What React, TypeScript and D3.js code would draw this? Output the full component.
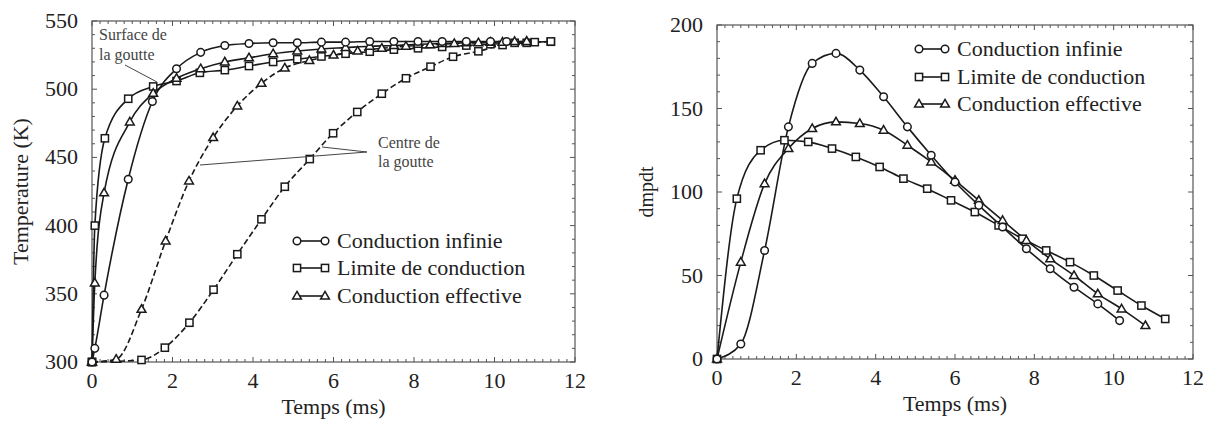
import React from 'react';
import * as d3 from 'd3';

// ---------- Left chart: Temperature (K) vs Temps (ms) ----------
const xTicksL = [0, 2, 4, 6, 8, 10, 12];
const yTicksL = [300, 350, 400, 450, 500, 550];

// Conduction infinie (surface = centre)
const infT_t = [0, 0.07, 0.3, 0.9, 1.5, 2.1, 2.7, 3.3, 3.9, 4.5, 5.1, 5.7, 6.3, 6.9, 7.5, 8.1, 8.7, 9.3, 9.9, 10.3];
const infT_v = [300, 310, 349, 434, 491, 515, 527, 532, 533.5, 534, 534, 534.5, 534.5, 535, 535, 535, 535, 535, 535, 535];
// Limite de conduction – surface
const limSurf_t = [0, 0.07, 0.32, 0.9, 1.52, 2.1, 2.68, 3.3, 3.9, 4.5, 5.1, 5.7, 6.3, 6.9, 7.5, 8.1, 8.7, 9.3, 9.9, 10.5, 11.0, 11.4];
const limSurf_v = [300, 400, 464, 493, 502, 506, 512, 514, 517, 520, 522, 524, 526, 527.5, 529, 530, 531, 532, 533, 534, 534.5, 535];
// Limite de conduction – centre
const limCtr_t = [0, 1.23, 1.81, 2.42, 3.02, 3.61, 4.21, 4.79, 5.41, 5.99, 6.59, 7.2, 7.8, 8.41, 8.97, 9.6, 10.2, 10.8, 11.4];
const limCtr_v = [300, 301.5, 310.5, 328.8, 353, 379, 404.6, 428.5, 448.8, 467.7, 483.3, 496.7, 508, 516.5, 523.8, 527.8, 532.4, 534, 534.8];
// Conduction effective – surface
const effSurf_t = [0, 0.07, 0.3, 0.94, 1.52, 2.1, 2.7, 3.3, 3.9, 4.5, 5.1, 5.7, 6.3, 6.9, 7.5, 8.1, 8.7, 9.3, 9.9, 10.5, 10.8];
const effSurf_v = [300, 358, 424, 476, 497, 508, 515, 520, 523, 526, 528, 529.5, 530.5, 531.5, 532, 533, 533.5, 534, 534.5, 535, 535];
// Conduction effective – centre
const effCtr_t = [0, 0.6, 1.23, 1.83, 2.41, 3.01, 3.61, 4.21, 4.79, 5.4, 6.0, 6.6, 7.2, 7.8, 8.4, 9.0, 9.6, 10.2, 10.8];
const effCtr_v = [300, 302, 338.6, 388.8, 432.7, 464.5, 487.7, 504.3, 515.5, 521, 525, 528, 530, 531.5, 532.5, 533.5, 534, 534.5, 535];

// ---------- Right chart: dmpdt vs Temps (ms) ----------
const xTicksR = [0, 2, 4, 6, 8, 10, 12];
const yTicksR = [0, 50, 100, 150, 200];

const infR_t = [0, 0.6, 1.2, 1.8, 2.4, 3.0, 3.6, 4.2, 4.8, 5.4, 6.0, 6.6, 7.2, 7.8, 8.4, 9.0, 9.6, 10.15];
const infR_v = [0, 9, 65, 139, 177, 183, 173, 157, 139, 122, 106, 92, 79, 66, 54, 43, 33, 23];
const limR_t = [0, 0.5, 1.1, 1.7, 2.3, 2.9, 3.5, 4.1, 4.7, 5.3, 5.9, 6.5, 7.1, 7.7, 8.3, 8.9, 9.5, 10.1, 10.7, 11.3];
const limR_v = [0, 96, 125, 131, 130, 126, 121, 115, 108, 102, 95, 88, 80, 72, 65, 58, 50, 41, 32, 24];
const effR_t = [0, 0.6, 1.2, 1.8, 2.4, 3.0, 3.6, 4.2, 4.8, 5.4, 6.0, 6.6, 7.2, 7.8, 8.4, 9.0, 9.6, 10.2, 10.8];
const effR_v = [0, 58, 105, 126, 138, 142, 141, 137, 128, 118, 107, 95, 83, 71, 60, 50, 39, 30, 20];

const legendLabels = ['Conduction infinie', 'Limite de conduction', 'Conduction effective'];

type Kind = 'circle' | 'square' | 'triangle';
type Series = { t: number[]; v: number[]; kind: Kind; dashed?: boolean };

const FONT = 'Liberation Serif';
const INK = '#1a1a1a';

function Marker({ kind, x, y }: { kind: Kind; x: number; y: number }) {
  const common = { fill: '#fff', stroke: INK, strokeWidth: 1.5 };
  if (kind === 'circle') return <circle cx={x} cy={y} r={3.8} {...common} />;
  if (kind === 'square') return <rect x={x - 3.6} y={y - 3.6} width={7.2} height={7.2} {...common} />;
  return <path d={`M${x},${y - 4.6} L${x + 4.4},${y + 3} L${x - 4.4},${y + 3} Z`} {...common} />;
}

function Panel({
  left, right, top, bottom, xDomain, yDomain, xTicks, yTicks, xMinor, yMinor, series, yLabel, yLabelX, yLabelSize,
}: {
  left: number; right: number; top: number; bottom: number;
  xDomain: [number, number]; yDomain: [number, number];
  xTicks: number[]; yTicks: number[]; xMinor: number; yMinor: number;
  series: Series[]; yLabel: string; yLabelX: number; yLabelSize: number;
}) {
  const x = d3.scaleLinear().domain(xDomain).range([left, right]);
  const y = d3.scaleLinear().domain(yDomain).range([bottom, top]);
  const xm = d3.range(xDomain[0], xDomain[1] + 1e-9, xMinor);
  const ym = d3.range(yDomain[0], yDomain[1] + 1e-9, yMinor);
  const line = d3.line<[number, number]>().x(d => x(d[0])).y(d => y(d[1])).curve(d3.curveMonotoneX);
  const tickColor = '#555';
  return (
    <g>
      {xm.map((v, i) => {
        const major = xTicks.some(t => Math.abs(t - v) < 1e-6);
        const L = major ? 5 : 3;
        return (
          <g key={'xm' + i} stroke={tickColor} strokeWidth={1}>
            <line x1={x(v)} x2={x(v)} y1={bottom} y2={bottom - L} />
            <line x1={x(v)} x2={x(v)} y1={top} y2={top + L} />
          </g>
        );
      })}
      {ym.map((v, i) => {
        const major = yTicks.some(t => Math.abs(t - v) < 1e-6);
        const L = major ? 5 : 3;
        return (
          <g key={'ym' + i} stroke={tickColor} strokeWidth={1}>
            <line x1={left} x2={left + L} y1={y(v)} y2={y(v)} />
            <line x1={right} x2={right - L} y1={y(v)} y2={y(v)} />
          </g>
        );
      })}
      <rect x={left} y={top} width={right - left} height={bottom - top} fill="none" stroke={tickColor} strokeWidth={1.2} />
      {xTicks.map(v => (
        <text key={'xl' + v} x={x(v)} y={bottom + 26} textAnchor="middle" fontFamily={FONT} fontSize={22} fill="#222">{v}</text>
      ))}
      {yTicks.map(v => (
        <text key={'yl' + v} x={left - 14} y={y(v) + 7} textAnchor="end" fontFamily={FONT} fontSize={22} fill="#222">{v}</text>
      ))}
      <text x={(left + right) / 2} y={bottom + 52} textAnchor="middle" fontFamily={FONT} fontSize={22} fill="#222">Temps (ms)</text>
      <text transform={`translate(${yLabelX},${(top + bottom) / 2}) rotate(-90)`} textAnchor="middle" fontFamily={FONT} fontSize={yLabelSize} fill="#222">{yLabel}</text>
      {series.map((s, si) => {
        const pts = s.t.map((t, i) => [t, s.v[i]] as [number, number]);
        return (
          <path key={'s' + si} d={line(pts) || ''} fill="none" stroke={INK} strokeWidth={1.6} strokeDasharray={s.dashed ? '6,3' : undefined} />
        );
      })}
      {series.map((s, si) => (
        <g key={'m' + si}>
          {s.t.map((t, i) => <Marker key={i} kind={s.kind} x={x(t)} y={y(s.v[i])} />)}
        </g>
      ))}
    </g>
  );
}

function Legend({ x0, x1, tx, ys }: { x0: number; x1: number; tx: number; ys: number[] }) {
  const kinds: Kind[] = ['circle', 'square', 'triangle'];
  return (
    <g>
      {legendLabels.map((lab, i) => (
        <g key={lab}>
          <line x1={x0} x2={x1} y1={ys[i]} y2={ys[i]} stroke={INK} strokeWidth={1.6} />
          <Marker kind={kinds[i]} x={x0} y={ys[i]} />
          <Marker kind={kinds[i]} x={x1} y={ys[i]} />
          <text x={tx} y={ys[i] + 7} fontFamily={FONT} fontSize={22} fill="#222">{lab}</text>
        </g>
      ))}
    </g>
  );
}

export default function App() {
  const leftSeries: Series[] = [
    { t: limCtr_t, v: limCtr_v, kind: 'square', dashed: true },
    { t: effCtr_t, v: effCtr_v, kind: 'triangle', dashed: true },
    { t: limSurf_t, v: limSurf_v, kind: 'square' },
    { t: effSurf_t, v: effSurf_v, kind: 'triangle' },
    { t: infT_t, v: infT_v, kind: 'circle' },
  ];
  const rightSeries: Series[] = [
    { t: limR_t, v: limR_v, kind: 'square' },
    { t: effR_t, v: effR_v, kind: 'triangle' },
    { t: infR_t, v: infR_v, kind: 'circle' },
  ];
  const annColor = '#444';
  return (
    <svg width={1209} height={421} style={{ position: 'absolute', left: 0, top: 0, background: '#fff' }}>
      <rect width={1209} height={421} fill="#fff" />
      <Panel left={92} right={575} top={21} bottom={362} xDomain={[0, 12]} yDomain={[300, 550]}
        xTicks={xTicksL} yTicks={yTicksL} xMinor={0.2} yMinor={10} series={leftSeries}
        yLabel="Temperature (K)" yLabelX={28} yLabelSize={22} />
      <Panel left={717} right={1193} top={25} bottom={359} xDomain={[0, 12]} yDomain={[0, 200]}
        xTicks={xTicksR} yTicks={yTicksR} xMinor={0.2} yMinor={10} series={rightSeries}
        yLabel="dmpdt" yLabelX={653} yLabelSize={20} />
      <text x={99} y={40} fontFamily={FONT} fontSize={16} fill={annColor}>Surface de</text>
      <text x={99} y={60} fontFamily={FONT} fontSize={16} fill={annColor}>la goutte</text>
      <line x1={125} y1={65} x2={157} y2={82} stroke={annColor} strokeWidth={1} />
      <text x={378} y={148} fontFamily={FONT} fontSize={16} fill={annColor}>Centre de</text>
      <text x={378} y={167} fontFamily={FONT} fontSize={16} fill={annColor}>la goutte</text>
      <line x1={367} y1={152} x2={322} y2={147} stroke={annColor} strokeWidth={1} />
      <line x1={367} y1={152} x2={200} y2={165} stroke={annColor} strokeWidth={1} />
      <Legend x0={297} x1={325} tx={337} ys={[241, 268, 296]} />
      <Legend x0={919} x1={945} tx={957} ys={[49, 77, 104]} />
    </svg>
  );
}
